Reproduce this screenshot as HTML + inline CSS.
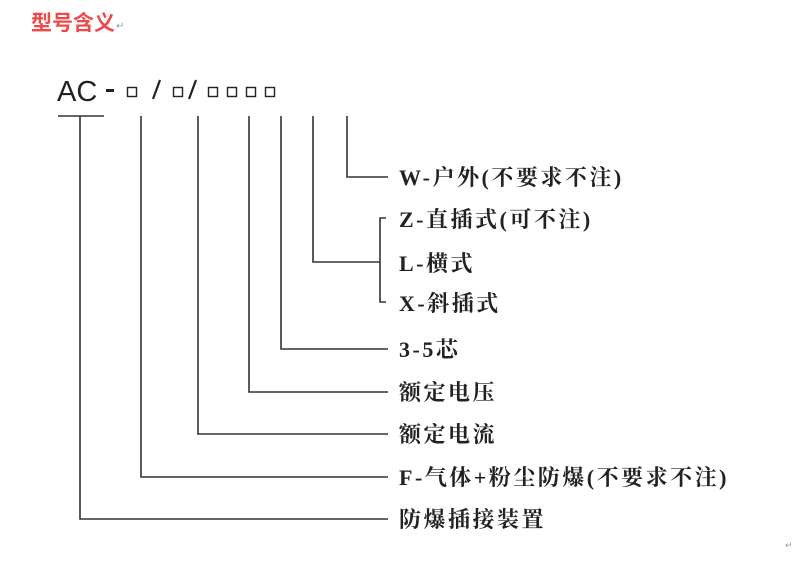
<!DOCTYPE html>
<html><head><meta charset="utf-8"><style>
html,body{margin:0;padding:0;background:#fff;width:800px;height:565px;overflow:hidden}
svg{display:block}
.t{font-family:"Liberation Serif","Noto Serif CJK SC",serif;font-weight:bold;font-size:22px;letter-spacing:2.5px;fill:#222}
</style></head><body>
<svg width="800" height="565" viewBox="0 0 800 565" xmlns="http://www.w3.org/2000/svg">
<text x="31" y="30" font-family="Liberation Sans,'Noto Sans CJK SC',sans-serif" font-weight="bold" font-size="21" fill="#f04848">型号含义</text>
<text x="116" y="29" font-family="Liberation Sans,sans-serif" font-size="10" fill="#999">↵</text>
<text x="57" y="101" font-family="Liberation Sans,sans-serif" font-size="29" fill="#222">AC</text>
<rect x="106" y="89" width="8" height="3" fill="#222"/>
<g fill="none" stroke="#222" stroke-width="1.4">
<rect x="127.5" y="87.5" width="9" height="9"/>
<rect x="173.5" y="87.5" width="9" height="9"/>
<rect x="208.5" y="87.5" width="9" height="9"/>
<rect x="227.5" y="87.5" width="9" height="9"/>
<rect x="246.5" y="87.5" width="9" height="9"/>
<rect x="265.5" y="87.5" width="9" height="9"/>
</g>
<g stroke="#222" stroke-width="2.2"><line x1="160" y1="80" x2="153" y2="99"/><line x1="196" y1="80" x2="189" y2="99"/></g>
<g fill="none" stroke="#333" stroke-width="1.6">
<line x1="58" y1="116" x2="104" y2="116"/>
<polyline points="80,116 80,519 388,519"/>
<polyline points="141,116 141,477 388,477"/>
<polyline points="198,116 198,434 388,434"/>
<polyline points="249,116 249,392 388,392"/>
<polyline points="281,116 281,349 388,349"/>
<polyline points="313,116 313,262 380,262"/>
<polyline points="347,116 347,177 388,177"/>
<polyline points="386,218 380,218 380,302 386,302"/>
</g>
<text class="t" x="399" y="185">W-户外(不要求不注)</text>
<text class="t" x="399" y="227">Z-直插式(可不注)</text>
<text class="t" x="399" y="271">L-横式</text>
<text class="t" x="399" y="311">X-斜插式</text>
<text class="t" x="399" y="357">3-5芯</text>
<text class="t" x="399" y="400">额定电压</text>
<text class="t" x="399" y="442">额定电流</text>
<text class="t" x="399" y="485">F-气体+粉尘防爆(不要求不注)</text>
<text class="t" x="399" y="527">防爆插接装置</text>
<text x="785" y="548" font-family="Liberation Sans,sans-serif" font-size="9" fill="#999">↵</text>
</svg>
</body></html>
